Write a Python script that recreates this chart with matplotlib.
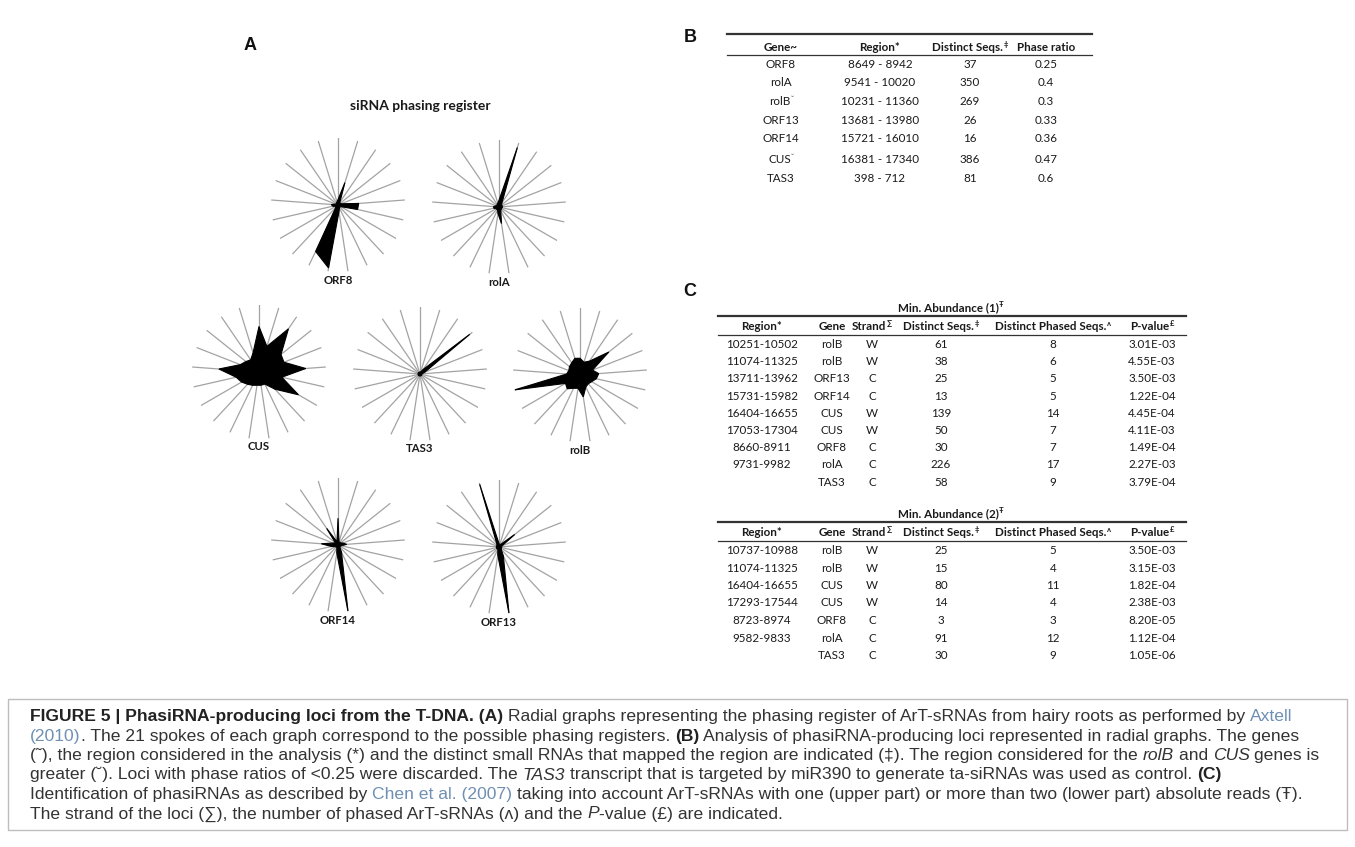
import matplotlib
matplotlib.use("Agg")
import matplotlib.pyplot as plt
import numpy as np

W, H, DPI = 1355, 847, 100

# ---------------- radial graph data (phasing register, 21 spokes) ----------------
N_REG = 21
orf8 = [0.08, 0.35, 0.05, 0.04, 0.05, 0.31, 0.30, 0.05, 0.04, 0.05, 0.10,
        0.95, 0.77, 0.05, 0.04, 0.08, 0.10, 0.04, 0.03, 0.04, 0.05]
rola = [0.10, 0.93, 0.08, 0.05, 0.05, 0.05, 0.05, 0.04, 0.05, 0.06, 0.25,
        0.10, 0.05, 0.05, 0.05, 0.08, 0.08, 0.05, 0.04, 0.05, 0.06]
cus = [0.68, 0.40, 0.78, 0.42, 0.40, 0.70, 0.35, 0.68, 0.35, 0.20, 0.20,
       0.20, 0.22, 0.25, 0.30, 0.35, 0.60, 0.30, 0.25, 0.22, 0.30]
tas3 = [0.03, 0.03, 0.08, 0.95, 0.08, 0.03, 0.03, 0.03, 0.03, 0.03, 0.03,
        0.03, 0.03, 0.03, 0.03, 0.03, 0.03, 0.03, 0.03, 0.03, 0.03]
rolb = [0.25, 0.20, 0.25, 0.55, 0.20, 0.28, 0.25, 0.20, 0.18, 0.20, 0.33,
        0.20, 0.22, 0.28, 0.25, 1.00, 0.20, 0.18, 0.20, 0.22, 0.26]
orf14 = [0.40, 0.05, 0.05, 0.05, 0.08, 0.13, 0.05, 0.04, 0.04, 0.12, 1.00,
         0.12, 0.04, 0.04, 0.05, 0.10, 0.25, 0.08, 0.05, 0.30, 0.05]
orf13 = [0.05, 0.04, 0.05, 0.30, 0.05, 0.04, 0.04, 0.04, 0.05, 0.15, 1.00,
         0.12, 0.04, 0.04, 0.04, 0.04, 0.04, 0.04, 0.04, 0.06, 0.98]

radar_names = ["ORF8", "rolA", "CUS", "TAS3", "rolB", "ORF14", "ORF13"]
radar_values = [orf8, rola, cus, tas3, rolb, orf14, orf13]

# ---------------- table B ----------------
b_header = ["Gene~", "Region*", "Distinct Seqs.", "Phase ratio"]
b_header_marks = ["", "", "‡", ""]
b_genes = ["ORF8", "rolA", "rolB", "ORF13", "ORF14", "CUS", "TAS3"]
b_gene_marks = ["", "", "˘", "", "", "˘", ""]
b_regions = ["8649 - 8942", "9541 - 10020", "10231 - 11360", "13681 - 13980",
             "15721 - 16010", "16381 - 17340", "398 - 712"]
b_seqs = ["37", "350", "269", "26", "16", "386", "81"]
b_ratio = ["0.25", "0.4", "0.3", "0.33", "0.36", "0.47", "0.6"]

# ---------------- table C ----------------
c_header = ["Region*", "Gene", "Strand", "Distinct Seqs.", "Distinct Phased Seqs.", "P-value"]
c_header_marks = ["", "", "∑", "‡", "ʌ", "£"]

c1_region = ["10251-10502", "11074-11325", "13711-13962", "15731-15982", "16404-16655",
             "17053-17304", "8660-8911", "9731-9982", ""]
c1_gene = ["rolB", "rolB", "ORF13", "ORF14", "CUS", "CUS", "ORF8", "rolA", "TAS3"]
c1_strand = ["W", "W", "C", "C", "W", "W", "C", "C", "C"]
c1_seqs = ["61", "38", "25", "13", "139", "50", "30", "226", "58"]
c1_phased = ["8", "6", "5", "5", "14", "7", "7", "17", "9"]
c1_pval = ["3.01E-03", "4.55E-03", "3.50E-03", "1.22E-04", "4.45E-04",
           "4.11E-03", "1.49E-04", "2.27E-03", "3.79E-04"]

c2_region = ["10737-10988", "11074-11325", "16404-16655", "17293-17544",
             "8723-8974", "9582-9833", ""]
c2_gene = ["rolB", "rolB", "CUS", "CUS", "ORF8", "rolA", "TAS3"]
c2_strand = ["W", "W", "W", "W", "C", "C", "C"]
c2_seqs = ["25", "15", "80", "14", "3", "91", "30"]
c2_phased = ["5", "4", "11", "4", "3", "12", "9"]
c2_pval = ["3.50E-03", "3.15E-03", "1.82E-04", "2.38E-03", "8.20E-05", "1.12E-04", "1.05E-06"]

# ---------------- figure ----------------
fig = plt.figure(figsize=(W / DPI, H / DPI), dpi=DPI)
bg = fig.add_axes([0, 0, 1, 1])
bg.set_xlim(0, W)
bg.set_ylim(H, 0)
bg.axis("off")
R = fig.canvas.get_renderer()

TAB_FONT = ["Lato", "DejaVu Sans"]
CAP_FONT = ["Liberation Sans Narrow", "Liberation Sans", "DejaVu Sans"]
TXT = "#1a1a1a"


def text_width(s, **kw):
    a = bg.text(0, 0, "|" + s + "|", **kw)
    b = bg.text(0, 0, "||", **kw)
    w = a.get_window_extent(R).width - b.get_window_extent(R).width
    a.remove()
    b.remove()
    return w


def draw_runs(x, y, parts, ha="left", base=None):
    base = base or {}
    items = []
    for s, kw in parts:
        p = dict(base)
        p.update(kw)
        dy = p.pop("dy", 0.0)
        items.append((s, p, dy, text_width(s, **p)))
    total = sum(it[3] for it in items)
    if ha == "center":
        x -= total / 2
    elif ha == "right":
        x -= total
    for s, p, dy, w in items:
        stripped = s.lstrip()
        lead = w - text_width(stripped, **p) if stripped != s else 0.0
        if stripped:
            bg.text(x + lead, y + dy, stripped, ha="left", va="baseline", **p)
        x += w
    return total


# ---------------- panel A: radial graphs ----------------
RAD = 67
centers = [(338, 205), (499, 207), (259, 372), (420, 374), (580, 375), (338, 545), (499, 547)]
theta = np.arange(N_REG) * 2 * np.pi / N_REG

for name, vals, (cx, cy) in zip(radar_names, radar_values, centers):
    ax = fig.add_axes([(cx - RAD) / W, 1 - (cy + RAD) / H, 2 * RAD / W, 2 * RAD / H],
                      projection="polar")
    ax.set_theta_zero_location("N")
    ax.set_theta_direction(-1)
    ax.set_ylim(0, 1)
    ax.grid(False)
    ax.set_xticks([])
    ax.set_yticks([])
    ax.spines["polar"].set_visible(False)
    ax.patch.set_alpha(0)
    for th in theta:
        ax.plot([th, th], [0, 1], color="#a3a3a3", lw=0.9, zorder=1)
    v = np.asarray(vals)
    ax.fill(np.r_[theta, theta[0]], np.r_[v, v[0]], color="black", lw=0.8, zorder=3)
    bg.text(cx, cy + 75, name, ha="center", va="center", fontsize=8.2,
            fontweight="bold", family=TAB_FONT, color=TXT)

bg.text(420, 106, "siRNA phasing register", ha="center", va="center", fontsize=10,
        fontweight="bold", family=TAB_FONT, color=TXT)

PANEL = dict(fontsize=13, fontweight="bold", family=["Liberation Sans", "DejaVu Sans"],
             color="#111111", ha="center", va="center")
bg.text(250, 45, "A", **PANEL)
bg.text(690, 37, "B", **PANEL)
bg.text(690, 292, "C", **PANEL)

# ---------------- panel B: table ----------------
TB = dict(fontsize=8.4, family=TAB_FONT, color=TXT)
TBB = dict(TB, fontweight="bold")
SUP = dict(fontsize=5.5, dy=-4)
b_cols = [781, 880, 970, 1046]
b_rows = [64, 82.5, 101, 119.5, 138, 159, 177.5]
bg.plot([727, 1092], [34, 34], color="#333333", lw=1.6)
bg.plot([727, 1092], [55, 55], color="#333333", lw=0.9)
for x, h, m in zip(b_cols, b_header, b_header_marks):
    parts = [(h, {})]
    if m:
        parts.append((m, SUP))
    draw_runs(x, 47 + 4, parts, ha="center", base=TBB)
for i, y in enumerate(b_rows):
    parts = [(b_genes[i], {})]
    if b_gene_marks[i]:
        parts.append((b_gene_marks[i], SUP))
    draw_runs(b_cols[0], y + 4, parts, ha="center", base=TB)
    for x, s in zip(b_cols[1:], [b_regions[i], b_seqs[i], b_ratio[i]]):
        draw_runs(x, y + 4, [(s, {})], ha="center", base=TB)

# ---------------- panel C: two tables ----------------
c_cols = [762, 832, 872, 941, 1053, 1152]


def draw_c_table(top, step, title_mark, cols_data):
    draw_runs(951, top + 4, [("Min. Abundance (" + title_mark + ")", {}), ("Ŧ", SUP)],
              ha="center", base=TBB)
    bg.plot([718, 1186], [top + 9, top + 9], color="#333333", lw=1.6)
    hy = top + 19
    for x, h, m in zip(c_cols, c_header, c_header_marks):
        parts = [(h, {})]
        if m:
            parts.append((m, SUP))
        draw_runs(x, hy + 4, parts, ha="center", base=TBB)
    bg.plot([718, 1186], [top + 28, top + 28], color="#333333", lw=0.9)
    n = len(cols_data[0])
    for i in range(n):
        y = top + 37 + i * step
        for x, col in zip(c_cols, cols_data):
            if col[i]:
                draw_runs(x, y + 4, [(col[i], {})], ha="center", base=TB)


draw_c_table(307, 17.2, "1", [c1_region, c1_gene, c1_strand, c1_seqs, c1_phased, c1_pval])
draw_c_table(513, 17.5, "2", [c2_region, c2_gene, c2_strand, c2_seqs, c2_phased, c2_pval])

# ---------------- caption ----------------
CAP_TOP = 716
CAP_STEP = 19.5
bg.add_patch(plt.Rectangle((8, CAP_TOP - 17), 1339, 5 * CAP_STEP + 34, fill=False,
                           edgecolor="#bdbdbd", lw=1.0))
NORM = {}
BOLD = dict(fontweight="bold", color="#222222")
LINK = dict(color="#6f8fb3")
ITAL = dict(fontstyle="italic")

caption = [
    [("FIGURE 5 | PhasiRNA-producing loci from the T-DNA. (A)", BOLD),
     (" Radial graphs representing the phasing register of ArT-sRNAs from hairy roots as performed by ", NORM),
     ("Axtell", LINK)],
    [("(2010)", LINK),
     (". The 21 spokes of each graph correspond to the possible phasing registers. ", NORM),
     ("(B)", BOLD),
     (" Analysis of phasiRNA-producing loci represented in radial graphs. The genes", NORM)],
    [("(˜), the region considered in the analysis (*) and the distinct small RNAs that mapped the region are indicated (‡). The region considered for the ", NORM),
     ("rolB", ITAL), (" and ", NORM), ("CUS", ITAL), (" genes is", NORM)],
    [("greater (˘). Loci with phase ratios of <0.25 were discarded. The ", NORM),
     ("TAS3", ITAL),
     (" transcript that is targeted by miR390 to generate ta-siRNAs was used as control. ", NORM),
     ("(C)", BOLD)],
    [("Identification of phasiRNAs as described by ", NORM),
     ("Chen et al. (2007)", LINK),
     (" taking into account ArT-sRNAs with one (upper part) or more than two (lower part) absolute reads (Ŧ).", NORM)],
    [("The strand of the loci (∑), the number of phased ArT-sRNAs (ʌ) and the ", NORM),
     ("P", ITAL), ("-value (£) are indicated.", NORM)],
]

# size the caption font so the first line spans its column width
probe = dict(fontsize=12, family=CAP_FONT, color="#333333")
w1 = sum(text_width(s, **dict(probe, **kw)) for s, kw in caption[0])
cap_fs = 12 * (1262 / w1)
CAP = dict(fontsize=cap_fs, family=CAP_FONT, color="#333333")
for j, line in enumerate(caption):
    draw_runs(30, CAP_TOP + j * CAP_STEP + 5, line, ha="left", base=CAP)

fig.savefig("out.png", dpi=DPI, facecolor="white")
